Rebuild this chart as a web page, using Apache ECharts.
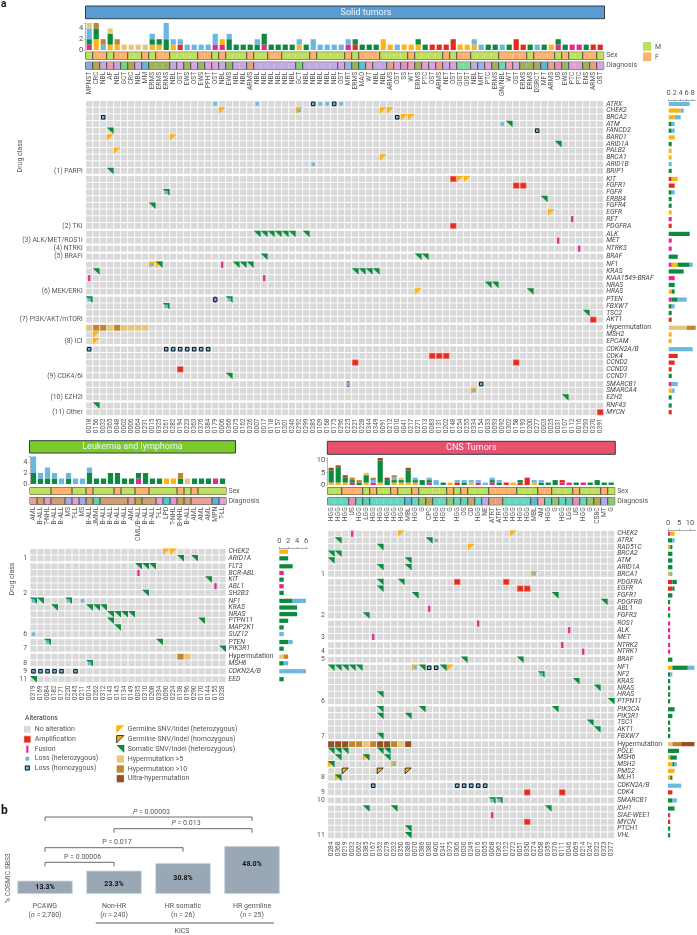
<!DOCTYPE html>
<html><head><meta charset="utf-8">
<style>html,body{margin:0;padding:0;background:#fff}#c{width:697px;height:935px}</style>
<script src="https://cdn.jsdelivr.net/npm/echarts@6/dist/echarts.min.js"></script>
</head><body><div id="c"></div>
<script>
// ---------- DATA ----------
// alteration codes: p fusion, r amplification, o germline het, O germline hom, g somatic,
// b loss het, h loss hom, l hypermutation>5, m hypermutation>10, u ultra-hypermutation
const solidSamples=["0018","0156","0032","0365","0048","0002","0006","0064","0231","0015","0325","0261","0282","0194","0223","0363","0376","0384","0179","0006","0366","0075","0162","0326","0007","0017","0118","0157","0201","0246","0292","0299","0285","0109","0168","0175","0296","0225","0221","0228","0344","0349","0091","0212","0010","0041","0217","0271","0013","0083","0131","0202","0148","0254","0255","0334","0154","0033","0093","0092","0302","0158","0193","0200","0277","0003","0025","0031","0107","0112","0016","0293","0370","0391"];
const solidDiagnosis=["MPNST","CRC","NBL","AF","NBL","GCT","CRC","NBL","MM","ERMS","ERMS","ERMS","NBL","OST","EWS","OST","EWS","PFHT","OST","NBL","EWS","NBL","NBL","ARMS","NBL","NBL","NBL","NBL","NBL","NBL","GCT","NBL","NBL","NBL","NBL","NBL","OST","MRT","ERMS","MAO","WT","NBL","NBL","ARMS","OST","SS","WT","ERMS","PTC","OST","ARMS","NET","OST","GIST","GIST","NBL","MRT","PTC","ERMS","GN/NBL","WT","OST","ERMS","ERMS","DSRCT","MFT","ARMS","US","EWS","PTC","PTC","ENS","ARMS","OST"];
const solidSex="MFFMFFMMFMFFMMMMFFMFMMMFMMFFMMMMFMMMMFMFFFMMMMFMMMMFMFFMMMMFFFFMFFFMFMMFFM";
const solidGroups=[["ATRX","CHEK2","BRCA2","ATM","FANCD2","BARD1","ARID1A","PALB2","BRCA1","ARID1B","BRIP1"],["KIT","FGFR1","FGFR","ERBB4","FGFR4","EGFR","RET","PDGFRA"],["ALK","MET"],["NTRK3"],["BRAF"],["NF1","KRAS","KIAA1549-BRAF","NRAS","HRAS"],["PTEN","FBXW7","TSC2","AKT1"],["Hypermutation","MSH2","EPCAM"],["CDKN2A/B","CDK4","CCND2","CCND3","CCND1"],["SMARCB1","SMARCA4","EZH2"],["RNF43","MYCN"]];
const solidDrugs=["(1) PARPi","(2) TKI","(3) ALK/MET/ROS1i","(4) NTRKi","(5) BRAFi","(6) MEK/ERKi","(7) PI3K/AKT/mTORi","(8) ICI","(9) CDK4/6i","(10) EZH2i","(11) Other"];
const solidEvents=[
["ATRX","b",[19,25,34,35,37]],["ATRX","h",[33,36]],
["CHEK2","o",[20,31,43,44]],["CHEK2","b",[31]],
["BRCA2","h",[3,45]],["BRCA2","o",[46,47]],
["ATM","b",[60]],["ATM","g",[61]],
["FANCD2","g",[4]],["FANCD2","h",[65]],
["BARD1","o",[4,13]],["ARID1A","g",[68]],["PALB2","o",[5]],["BRCA1","o",[43]],["ARID1B","b",[33]],["BRIP1","g",[4]],
["KIT","r",[53]],["KIT","o",[54,55]],["FGFR1","r",[62,63]],["FGFR","g",[12]],["FGFR","b",[12]],
["ERBB4","g",[66]],["FGFR4","g",[10]],["EGFR","o",[67]],["RET","p",[70]],["PDGFRA","r",[53]],
["ALK","g",[25,26,27,28,29,30,32]],["MET","p",[68]],["NTRK3","p",[71]],["BRAF","g",[26,48,49]],
["NF1","o",[10,11]],["NF1","b",[10]],["NF1","g",[11,22,23,24]],["NF1","p",[20]],
["KRAS","g",[2,39,40,41,42]],["KIAA1549-BRAF","p",[1,26]],["NRAS","g",[58,59]],["HRAS","o",[48]],["HRAS","g",[64]],
["PTEN","g",[1,21]],["PTEN","b",[1,21]],["PTEN","p",[19]],["PTEN","h",[19]],
["FBXW7","g",[12]],["FBXW7","b",[12]],["TSC2","g",[72]],["AKT1","r",[73]],
["Hypermutation","l",[1,4,6,7,8,9]],["Hypermutation","m",[2,3,5]],["MSH2","o",[2]],["EPCAM","o",[2]],
["CDKN2A/B","h",[1,12,13,14,15,16,17,18]],["CDK4","r",[50,51,52]],["CCND2","r",[39,62]],["CCND3","r",[14]],["CCND1","g",[21]],
["SMARCB1","p",[38]],["SMARCB1","b",[38]],["SMARCB1","h",[57]],["SMARCA4","o",[56]],["SMARCA4","b",[56]],["EZH2","g",[69]],
["RNF43","g",[2]],["MYCN","r",[74]]];

const leukSamples=["0319","0169","0084","0182","0171","0220","0245","0211","0014","0262","0312","0143","0145","0134","0149","0035","0310","0208","0334","0090","0224","0138","0196","0290","0170","0144","0155","0328"];
const leukDiagnosis=["AML","B-ALL","T-NHL","B-ALL","B-ALL","MS","T-LL","MS","B-ALL","JMML","B-ALL","B-ALL","B-ALL","B-ALL","AML","CML/B-ALL","B-ALL","B-ALL","T-LL","LPD","T-NHL","B-NHL","B-ALL","AML","AML","AML","MPN","T-LL"];
const leukSex="MMMFFFMMFMMMFMMFFMMMMFMFMMMM";
const leukGroups=[["CHEK2","ARID1A"],["FLT3","BCR-ABL","KIT","ABL1","SH2B3"],["NF1","KRAS","NRAS","PTPN11","MAP2K1","SUZ12"],["PTEN","PIK3R1"],["Hypermutation","MSH6"],["CDKN2A/B"],["EED"]];
const leukDrugs=["1","2","6","7","8","9","11"];
const leukEvents=[
["CHEK2","o",[20,21]],["ARID1A","g",[22,24]],["FLT3","g",[16,17,18]],["BCR-ABL","p",[16]],["KIT","g",[26]],["ABL1","p",[27]],["SH2B3","g",[17]],
["NF1","g",[1,2,6]],["NF1","b",[1,6,8]],["KRAS","g",[4,9,10,11]],["NRAS","g",[12,13,14,15]],["PTPN11","g",[12,25]],["MAP2K1","g",[13]],["SUZ12","b",[1]],
["PTEN","g",[3,19]],["PTEN","b",[3]],["PIK3R1","g",[28]],["Hypermutation","m",[22]],["Hypermutation","l",[23]],["MSH6","g",[9]],["MSH6","b",[9]],
["CDKN2A/B","h",[1,2,3,4,5,7]],["EED","g",[1]]];

const cnsSamples=["0284","0368","0219","0032","0062","0385","0167","0352","0279","0232","0350","0388","0070","0386","0380","0400","0341","0375","0306","0030","0249","0016","0055","0068","0362","0122","0272","0051","0350","0274","0058","0359","0376","0111","0046","0069","0214","0247","0322","0323","0377"];
const cnsDiagnosis=["HGG","HGG","HGG","US","HGG","LGG","HGG","HGG","HGG","HGG","HGG","MBL","HGG","G","CPC","HGG","HGG","G","HGG","OS","CD","HGG","NE","ATRT","ATRT","HGG","HGG","HGG","HGG","MBL","AM","HGG","G","HGG","LGG","US","HGG","G","CS8C","MT","G"];
const cnsSex="MMFFFMFMMFMMFMMMMFMFMMMFFFFMMMFFMMMFMMMFM";
const cnsGroups=[["CHEK2","ATRX","RAD51C","BRCA2","ATM","ARID1A","BRCA1"],["PDGFRA","EGFR","FGFR1","PDGFRB","ABL1","FGFR3"],["ROS1","ALK","MET"],["NTRK2","NTRK1"],["BRAF"],["NF1","NF2","KRAS","NRAS","HRAS","PTPN11"],["PIK3CA","PIK3R1","TSC1","AKT1","FBXW7"],["Hypermutation","POLE","MSH6","MSH2","PMS2","MLH1"],["CDKN2A/B","CDK4"],["SMARCB1"],["IDH1","SIAE-WEE1","MYCN","PTCH1","VHL"]];
const cnsDrugs=["1","2","3","4","5","6","7","8","9","10","11"];
const cnsEvents=[
["CHEK2","p",[4]],["CHEK2","o",[11,27]],["ATRX","g",[2,15]],["ATRX","b",[16]],["RAD51C","g",[8]],["RAD51C","o",[21]],["BRCA2","g",[1,2]],["ATM","g",[1,12]],["ARID1A","g",[8,12]],["BRCA1","o",[30]],["BRCA1","b",[30]],
["PDGFRA","g",[8,11]],["PDGFRA","r",[19,26]],["EGFR","g",[8]],["EGFR","r",[28,29]],["FGFR1","g",[13,33]],["PDGFRB","g",[40]],["ABL1","p",[15]],["FGFR3","g",[6]],
["ROS1","p",[22]],["ALK","p",[35]],["MET","p",[7]],["NTRK2","p",[34]],["NTRK1","p",[37]],["BRAF","g",[20,28]],
["NF1","g",[1,2,3,4,5,14,17]],["NF1","o",[13,18]],["NF1","b",[13]],["NF1","h",[15,16]],["NF2","g",[31]],["NF2","b",[31]],["KRAS","g",[36]],["NRAS","g",[39]],["HRAS","g",[8]],["PTPN11","g",[41]],
["PIK3CA","g",[8,14,33]],["PIK3R1","g",[8,12]],["TSC1","g",[38]],["AKT1","g",[39]],["FBXW7","g",[8]],
["Hypermutation","u",[1,2,3,8,9,12]],["Hypermutation","m",[4,5,7,10]],["Hypermutation","l",[6,11]],
["POLE","g",[1,2,3,8,9]],["MSH6","o",[6]],["MSH6","g",[2,6,9]],["MSH2","o",[1,10]],["MSH2","g",[1]],["MSH2","b",[10]],["PMS2","O",[3,8,12]],["MLH1","o",[2]],["MLH1","g",[2]],
["CDKN2A/B","h",[7,19,20,21,22,23]],["CDK4","r",[29,34]],["SMARCB1","g",[24,25]],["SMARCB1","b",[24,25]],
["IDH1","g",[6,10,32]],["SIAE-WEE1","p",[24]],["MYCN","r",[29]],["PTCH1","g",[12]],["VHL","g",[12]]];

const bCategories=["PCAWG","Non-HR","HR somatic","HR germline"];
const bCounts=["2,780","240","26","25"];
const bValues=[13.3,23.3,30.8,48.0];
const bBrackets=[[0,3,77,"0.00003",1],[1,3,65.3,"0.013",1],[0,2,46.3,"0.017",0],[0,1,31.7,"0.00006",0]];

// ---------- STYLE ----------
const FONT='Roboto';
const TXT='#555';
const C={p:'#e6288f',r:'#e52b1e',o:'#ffb310',O:'#ffb310',g:'#0c8a3e',b:'#6ab7e0',h:'#6ab7e0',l:'#e6c67c',m:'#c4842a',u:'#945020'};
const STACK=['p','r','o','g','b','l','m','u'];
const COUNT_AS={O:'o',h:'b'};
const DRAW_ORDER='urlmpogObh';
const SEX={M:'#bfdf5f',F:'#ffb26e'};
const DIAG={MPNST:'#8fa9dc',CRC:'#b4a44f',NBL:'#c3a9e2',AF:'#ef9aaa',GCT:'#80cf80',MM:'#6db0d8',ERMS:'#9cb35d',OST:'#d9a2e2',EWS:'#98b867',PFHT:'#dca2e2',ARMS:'#e6a08a',MRT:'#9ab3e6',MAO:'#55c5c8',WT:'#ef9fb9',SS:'#e28fd0',PTC:'#e0a0dc',NET:'#d0a2ea',GIST:'#80d8a0','GN/NBL':'#70d8a8',DSRCT:'#a8a860',MFT:'#60b0d8',US:'#e78fb8',ENS:'#a0b060',
AML:'#e8a098','B-ALL':'#cfa074','T-NHL':'#e098d0',MS:'#a8a8e2','T-LL':'#e0a0d8',JMML:'#60d0c0','CML/B-ALL':'#b8a850',LPD:'#50ccc8','B-NHL':'#c8a060',MPN:'#70a8d8',
HGG:'#68d5c0',LGG:'#66ccb8',MBL:'#60b8d8',G:'#90c870',CPC:'#b8a860',OS:'#70d0b0',CD:'#c4a468',NE:'#c0a8f0',ATRT:'#e0a080',AM:'#f0a0a8',CS8C:'#b0a850',MT:'#b0a8e8'};

// Mark drawn in a cell whose top-left is (x,y), size w*h
function mark(t,x,y,w,h){
  const pad=.4;
  if(t==='r') return [{type:'rect',shape:{x:x,y:y,width:w,height:h},style:{fill:C.r,stroke:'#f4a79c',lineWidth:.6}}];
  if(t==='l'||t==='m'||t==='u') return [{type:'rect',shape:{x:x,y:y,width:w,height:h},style:{fill:C[t]}}];
  if(t==='p') return [{type:'rect',shape:{x:x+w/2-1.1,y:y-.2,width:2.2,height:h+.4},style:{fill:C.p}}];
  if(t==='b'){const s=Math.min(w,h)*.58;return [{type:'rect',shape:{x:x+w/2-s/2,y:y+h/2-s/2,width:s,height:s},style:{fill:C.b}}];}
  if(t==='h'){const s=Math.min(w,h)*.62;return [{type:'rect',shape:{x:x+w/2-s/2,y:y+h/2-s/2,width:s,height:s},style:{fill:C.h,stroke:'#141414',lineWidth:1}}];}
  if(t==='o') return [{type:'polygon',shape:{points:[[x-pad,y-pad],[x+w+pad,y-pad],[x-pad,y+h+pad]]},style:{fill:C.o}}];
  if(t==='O') return [{type:'polygon',shape:{points:[[x,y],[x+w,y],[x,y+h]]},style:{fill:C.o,stroke:'#222',lineWidth:.9}}];
  if(t==='g') return [{type:'polygon',shape:{points:[[x-pad,y-pad],[x+w+pad,y-pad],[x+w+pad,y+h+pad]]},style:{fill:C.g}}];
  return [];
}

const grids=[],xAxes=[],yAxes=[],series=[],graphics=[];
function addGrid(g){grids.push(Object.assign({show:false,outerBoundsMode:'none',containLabel:false},g));return grids.length-1;}
const noAxis={axisLine:{show:false},axisTick:{show:false},splitLine:{show:false},axisLabel:{show:false}};

function addPanel(P){
  const n=P.samples.length, W=n*7, idx=[...Array(n).keys()];
  const flat=[].concat(...P.events.map(e=>e[2].map(c=>({gene:e[0],t:e[1],c:c-1}))));
  // ---- per-sample stacked bars, counted from the alterations
  let gi=addGrid({left:P.left,top:P.barTop,width:W,height:P.barH});
  xAxes.push(Object.assign({type:'category',gridIndex:gi,data:P.samples},noAxis));
  yAxes.push({type:'value',gridIndex:gi,min:0,max:P.barMax,interval:P.barInterval,splitLine:{show:false},
    axisLine:{show:true,lineStyle:{color:'#999',width:.7}},axisTick:{show:true,length:1.5,lineStyle:{color:'#999',width:.7}},
    axisLabel:{show:true,fontFamily:FONT,fontSize:7.5,color:TXT,margin:2.5,hideOverlap:false,formatter:v=>v%P.barInterval?'':v}});
  STACK.forEach(t=>{
    const d=idx.map(i=>flat.filter(e=>e.c===i&&(COUNT_AS[e.t]||e.t)===t).length);
    if(d.some(v=>v)) series.push({type:'bar',xAxisIndex:xAxes.length-1,yAxisIndex:yAxes.length-1,stack:'top'+P.name,data:d,barWidth:5.2,itemStyle:{color:C[t]},silent:true});
  });
  // ---- sex + diagnosis strips
  [[P.sexTop,i=>SEX[P.sex[i]],i=>P.sex[i],'Sex',false],[P.diagTop,i=>DIAG[P.diagnosis[i]],i=>P.diagnosis[i],'Diagnosis',true]].forEach(s=>{
    const g=addGrid({left:P.left,top:s[0],width:W,height:P.stripH,show:true,borderColor:'#3f4a3c',borderWidth:1,backgroundColor:'transparent'});
    xAxes.push({type:'category',gridIndex:g,data:P.diagnosis,axisLine:{show:false},axisTick:{show:false},splitLine:{show:false},
      axisLabel:{show:s[4],interval:0,rotate:90,margin:2.5,fontFamily:FONT,fontSize:6.7,color:TXT,hideOverlap:false}});
    yAxes.push({type:'category',gridIndex:g,data:[s[3]],position:'right',axisLine:{show:false},axisTick:{show:false},splitLine:{show:false},
      axisLabel:{show:true,margin:2.5,fontFamily:FONT,fontSize:7,color:TXT}});
    series.push({type:'custom',xAxisIndex:xAxes.length-1,yAxisIndex:yAxes.length-1,silent:true,data:idx.map(i=>[i,0]),clip:false,
      renderItem:(p,api)=>{const i=api.value(0),c=api.coord([i,0]),sz=api.size([1,1]);
        const ch=[{type:'rect',shape:{x:c[0]-sz[0]/2,y:c[1]-sz[1]/2,width:sz[0],height:sz[1]},style:{fill:s[1](i)}}];
        if(i>0&&s[2](i)!==s[2](i-1)) ch.push({type:'line',shape:{x1:c[0]-sz[0]/2,y1:c[1]-sz[1]/2,x2:c[0]-sz[0]/2,y2:c[1]+sz[1]/2},style:{stroke:'#3f4a3c',lineWidth:1}});
        return {type:'group',children:ch};}});
  });
  // ---- heat map + side bars, one grid pair per drug group
  let y=P.rowTop-P.pitch/2;
  P.groups.forEach((genes,gIdx)=>{
    const h=genes.length*P.pitch, last=gIdx===P.groups.length-1;
    const g=addGrid({left:P.left,top:y,width:W,height:h});
    xAxes.push({type:'category',gridIndex:g,data:P.samples,axisLine:{show:false},axisTick:{show:false},splitLine:{show:false},
      axisLabel:{show:last,interval:0,rotate:90,margin:3,fontFamily:FONT,fontSize:6.5,color:TXT,hideOverlap:false}});
    const xi=xAxes.length-1;
    yAxes.push({type:'category',gridIndex:g,data:genes,inverse:true,position:'right',axisLine:{show:false},axisTick:{show:false},splitLine:{show:false},
      axisLabel:{show:true,interval:0,margin:2.5,fontFamily:FONT,fontSize:6.8,fontStyle:'italic',color:'#444',hideOverlap:false,
        formatter:v=>v==='Hypermutation'?'{h|Hypermutation}':v,rich:{h:{fontFamily:FONT,fontSize:6.8,fontStyle:'normal',color:'#444'}}}});
    const yi=yAxes.length-1;
    // drug-class label: on the group's last row; two-row groups marked in P.centredDrugs sit between their rows
    const lift=(P.centredDrugs||[]).includes(P.drugs[gIdx])?P.pitch:2;
    yAxes.push({type:'category',gridIndex:g,data:genes.map((_,i)=>i===genes.length-1?P.drugs[gIdx]:''),inverse:true,position:'left',axisLine:{show:false},axisTick:{show:false},splitLine:{show:false},
      axisLabel:{show:true,interval:0,margin:3,fontFamily:FONT,fontSize:6.8,color:TXT,hideOverlap:false,padding:[0,0,lift,0]}});
    const cells=[];genes.forEach((_,r)=>idx.forEach(c=>cells.push([c,r])));
    const rect=(api,c,r)=>{const o=api.coord([c,r]),s=api.size([1,1]);const w=s[0]-.9,hh=s[1]-.95;return [o[0]-w/2,o[1]-hh/2,w,hh];};
    series.push({type:'custom',xAxisIndex:xi,yAxisIndex:yi,silent:true,data:cells,clip:false,
      renderItem:(p,api)=>{const q=rect(api,api.value(0),api.value(1));return {type:'rect',shape:{x:q[0],y:q[1],width:q[2],height:q[3]},style:{fill:'#d9d9d9'}};}});
    const evs=flat.filter(e=>genes.includes(e.gene)).sort((a,b)=>DRAW_ORDER.indexOf(a.t)-DRAW_ORDER.indexOf(b.t))
      .map(e=>[e.c,genes.indexOf(e.gene),e.t]);
    series.push({type:'custom',xAxisIndex:xi,yAxisIndex:yi,silent:true,clip:false,data:evs.map(e=>[e[0],e[1]]),
      renderItem:(p,api)=>{const t=evs[p.dataIndex][2];const q=rect(api,api.value(0),api.value(1));return {type:'group',children:mark(t,q[0],q[1],q[2],q[3])};}});
    // side bars
    const sg=addGrid({left:P.sideLeft,top:y,width:P.sideMax*P.sideScale,height:h});
    xAxes.push({type:'value',gridIndex:sg,min:0,max:P.sideMax,interval:P.sideInterval,position:'top',show:gIdx===0,splitLine:{show:false},
      axisLine:{show:gIdx===0,lineStyle:{color:'#888',width:.7}},axisTick:{show:gIdx===0,length:1.5,lineStyle:{color:'#888',width:.7}},
      axisLabel:{show:gIdx===0,showMaxLabel:false,fontFamily:FONT,fontSize:7.5,color:TXT,margin:3,hideOverlap:false,formatter:v=>v%P.sideInterval?'':v}});
    yAxes.push(Object.assign({type:'category',gridIndex:sg,data:genes,inverse:true},noAxis));
    STACK.forEach(t=>{
      const d=genes.map(G=>flat.filter(e=>e.gene===G&&(COUNT_AS[e.t]||e.t)===t).length);
      if(d.some(v=>v)) series.push({type:'bar',xAxisIndex:xAxes.length-1,yAxisIndex:yAxes.length-1,stack:'side'+P.name+gIdx,data:d,barWidth:4.2,itemStyle:{color:C[t]},silent:true});
    });
    y+=h+P.gap;
  });
}

addPanel({name:'solid',samples:solidSamples,diagnosis:solidDiagnosis,sex:solidSex,groups:solidGroups,drugs:solidDrugs,events:solidEvents,centredDrugs:["(3) ALK/MET/ROS1i"],
  left:85.7,barTop:23,barH:27,barMax:5,barInterval:2,sexTop:52.2,diagTop:62.2,stripH:7,rowTop:103.9,pitch:6.7,gap:1.35,sideLeft:668.7,sideScale:3,sideMax:9,sideInterval:2});
addPanel({name:'leuk',samples:leukSamples,diagnosis:leukDiagnosis,sex:leukSex,groups:leukGroups,drugs:leukDrugs,events:leukEvents,centredDrugs:["8"],
  left:30,barTop:456.5,barH:27.5,barMax:5,barInterval:2,sexTop:487.5,diagTop:497.5,stripH:6.8,rowTop:551.7,pitch:6.65,gap:1.3,sideLeft:279.3,sideScale:4.45,sideMax:6.3,sideInterval:2});
addPanel({name:'cns',samples:cnsSamples,diagnosis:cnsDiagnosis,sex:cnsSex,groups:cnsGroups,drugs:cnsDrugs,events:cnsEvents,
  left:327.7,barTop:458,barH:27,barMax:11,barInterval:5,sexTop:487.5,diagTop:497.8,stripH:7,rowTop:533.7,pitch:6.7,gap:1.35,sideLeft:668,sideScale:2.2,sideMax:12.5,sideInterval:5});

// ---------- panel b ----------
const bi=addGrid({left:10.5,top:800,width:276,height:94});
xAxes.push({type:'category',gridIndex:bi,data:bCategories,axisLine:{show:false},axisTick:{show:false},
  axisLabel:{interval:0,margin:7,lineHeight:9.5,fontFamily:FONT,fontSize:7,color:TXT,hideOverlap:false,
    formatter:(v,i)=>v+'\n({i|n} = '+bCounts[i]+')',rich:{i:{fontFamily:FONT,fontSize:7,fontStyle:'italic',color:TXT,lineHeight:9.5}}}});
yAxes.push(Object.assign({type:'value',gridIndex:bi,min:0,max:94},noAxis));
series.push({type:'bar',xAxisIndex:xAxes.length-1,yAxisIndex:yAxes.length-1,barWidth:55.4,silent:true,
  itemStyle:{color:'#9aa8b6',borderColor:'#c8d0d9',borderWidth:.8},
  data:bValues.map((v,i)=>({value:v,label:{offset:[0,i===3?-6:i===1?2:0]}})),
  label:{show:true,position:'inside',fontFamily:FONT,fontSize:7,fontWeight:'bold',color:'#111',formatter:p=>p.value.toFixed(1)+'%'}});
series.push({type:'custom',xAxisIndex:xAxes.length-1,yAxisIndex:yAxes.length-1,silent:true,clip:false,data:bBrackets.map(b=>[b[0],b[1],b[2]]),
  renderItem:(p,api)=>{const a=api.coord([api.value(0),api.value(2)]),b=api.coord([api.value(1),api.value(2)]);const br=bBrackets[p.dataIndex];
    return {type:'group',children:[
      {type:'polyline',shape:{points:[[a[0],a[1]+4],[a[0],a[1]],[b[0],b[1]],[b[0],b[1]+4]]},style:{stroke:'#444',lineWidth:.8,fill:null}},
      {type:'text',style:{x:(a[0]+b[0])/2+3,y:a[1]-5,text:(br[4]?'{i|P}':'P')+' = '+br[3],fontFamily:FONT,fontSize:7,fill:TXT,textAlign:'center',textVerticalAlign:'middle',
        rich:{i:{fontFamily:FONT,fontSize:7,fontStyle:'italic',fill:TXT}}}}]};}});

// ---------- decorations ----------
function txt(s,x,y,o){graphics.push(Object.assign({type:'text',x:x,y:y,silent:true,style:Object.assign({text:s,fontFamily:FONT,fontSize:7,fill:TXT,textAlign:'left',textVerticalAlign:'middle'},o&&o.style)},o&&o.el));}
function header(s,x0,x1,y0,y1,fill,cx){
  graphics.push({type:'rect',silent:true,shape:{x:x0,y:y0,width:x1-x0,height:y1-y0},style:{fill:fill,stroke:'#2e3f47',lineWidth:1}});
  txt(s,cx,(y0+y1)/2,{style:{fontSize:9,fill:'#eef6ff',textAlign:'center'}});
}
header('Solid tumors',85.5,604.5,6,18.7,'#5a9bd2',366);
header('Leukemia and lymphoma',29.5,235.5,440.7,453,'#7cca2c',132.5);
header('CNS Tumors',327.3,615.3,441.3,454.3,'#e8526f',471.3);
txt('a',1,4,{style:{fontSize:10,fontWeight:'bold',fill:'#111'}});
txt('b',1,811,{style:{fontSize:12,fontWeight:'bold',fill:'#111'}});
txt('Drug class',20,156,{el:{rotation:Math.PI/2},style:{textAlign:'center'}});
txt('Drug class',12,579,{el:{rotation:Math.PI/2},style:{textAlign:'center'}});
txt('% COSMIC SBS3',8.7,878,{el:{rotation:Math.PI/2},style:{textAlign:'center',fontSize:6.8}});
txt('KICS',182,931,{style:{textAlign:'center'}});
graphics.push({type:'line',silent:true,shape:{x1:95.7,y1:923,x2:274,y2:923},style:{stroke:'#333',lineWidth:.8}});
// sex legend
[['M',SEX.M,42],['F',SEX.F,52.3]].forEach(a=>{
  graphics.push({type:'rect',silent:true,shape:{x:643,y:a[2],width:8.3,height:8.8},style:{fill:a[1]}});
  txt(a[0],655,a[2]+5);
});
// alterations legend
txt('Alterations',25,718.5,{style:{fontSize:6.8,fill:'#333'}});
const legendRows=[
 [24,34.7,[['No alteration','n',729.3],['Amplification','r',739.3],['Fusion','p',749.2],['Loss (heterozygous)','b',758.7],['Loss (homozygous)','h',768]]],
 [116.7,127.7,[['Germline SNV/indel (heterozygous)','o',729.3],['Germline SNV/indel (homozygous)','O',739.2],['Somatic SNV/indel (heterozygous)','g',749],['Hypermutation >5','l',759],['Hypermutation >10','m',769],['Ultra-hypermutation','u',778.7]]]];
legendRows.forEach(col=>col[2].forEach(it=>{
  const w=col[0]===24?6.7:7.2,h=col[0]===24?6.7:7.2,x=col[0],y=it[2]-h/2;
  const shapes=it[1]==='n'?[{type:'rect',shape:{x:x,y:y,width:w,height:h},style:{fill:'#d9d9d9'}}]:mark(it[1],x,y,w,h);
  shapes.forEach(s=>{s.silent=true;graphics.push(s);});
  txt(it[0],col[1],it[2]);
}));

const chart=echarts.init(document.getElementById('c'),null,{renderer:'canvas',width:697,height:935});
chart.setOption({animation:false,backgroundColor:'#fff',tooltip:{show:false},legend:{show:false},grid:grids,xAxis:xAxes,yAxis:yAxes,series:series,graphic:{elements:graphics}});
</script></body></html>
